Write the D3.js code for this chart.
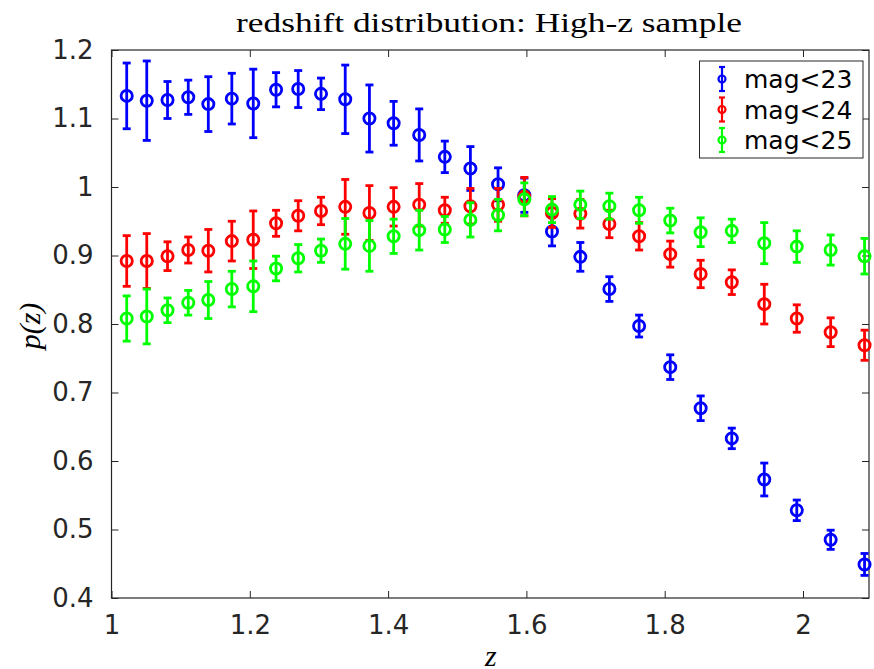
<!DOCTYPE html>
<meta charset="utf-8">
<style>
  body { margin: 0; background: #fff; }
  .tick text { font-family: "DejaVu Sans", sans-serif; font-size: 26px; fill: #262626; }
  .legend text { font-family: "DejaVu Sans", sans-serif; font-size: 25px; fill: #000; }
  .title, .lab { font-family: "Liberation Serif", "DejaVu Serif", serif; fill: #000; }
</style>
<body>
<svg width="874" height="669"></svg>
<script src="https://d3js.org/d3.v7.min.js"></script>
<script>
// redshift bin centres
var zs = [1.022,1.051,1.081,1.111,1.140,1.174,1.205,1.238,1.270,1.303,1.338,1.373,1.408,1.445,1.482,
          1.519,1.559,1.597,1.637,1.678,1.720,1.763,1.808,1.852,1.897,1.944,1.991,2.040,2.089];

var mag23 = [1.133,1.126,1.127,1.131,1.121,1.129,1.122,1.142,1.143,1.136,1.128,1.100,1.093,1.076,1.044,
             1.027,1.004,0.988,0.935,0.898,0.851,0.797,0.737,0.677,0.633,0.573,0.528,0.485,0.449];
var err23 = [0.048,0.058,0.027,0.025,0.040,0.037,0.050,0.025,0.027,0.023,0.050,0.049,0.032,0.038,0.023,
             0.032,0.024,0.025,0.021,0.021,0.018,0.016,0.018,0.018,0.015,0.024,0.015,0.014,0.016];

var mag24 = [0.892,0.892,0.899,0.908,0.907,0.921,0.923,0.947,0.958,0.965,0.971,0.962,0.971,0.974,0.966,
             0.972,0.974,0.986,0.962,0.961,0.946,0.928,0.902,0.873,0.861,0.829,0.808,0.788,0.769];
var err24 = [0.037,0.040,0.021,0.019,0.031,0.029,0.042,0.019,0.022,0.020,0.040,0.040,0.028,0.031,0.019,
             0.026,0.024,0.028,0.021,0.021,0.020,0.020,0.019,0.020,0.018,0.029,0.020,0.021,0.022];

var mag25 = [0.808,0.811,0.820,0.831,0.835,0.851,0.855,0.881,0.896,0.907,0.917,0.914,0.928,0.937,0.938,
             0.952,0.959,0.982,0.967,0.974,0.972,0.966,0.951,0.934,0.936,0.918,0.913,0.908,0.899];
var err25 = [0.033,0.040,0.018,0.018,0.027,0.026,0.037,0.018,0.020,0.017,0.037,0.037,0.025,0.029,0.019,
             0.025,0.023,0.024,0.019,0.020,0.019,0.019,0.018,0.021,0.017,0.030,0.023,0.022,0.026];

var seriesNames = ["mag<23", "mag<24", "mag<25"];
var seriesColors = ["#0000ff", "#ff0000", "#00ff00"];
var xTicks = [1, 1.2, 1.4, 1.6, 1.8, 2];
var yTicks = [0.4, 0.5, 0.6, 0.7, 0.8, 0.9, 1, 1.1, 1.2];

var series = [
  {name: seriesNames[0], color: seriesColors[0], y: mag23, e: err23},
  {name: seriesNames[1], color: seriesColors[1], y: mag24, e: err24},
  {name: seriesNames[2], color: seriesColors[2], y: mag25, e: err25}
];

var svg = d3.select("svg");
var L = 111.5, R = 869, T = 50, B = 598;

var x = d3.scaleLinear().domain([1, 1 + (R - L) / 691.5]).range([L, R]);
var y = d3.scaleLinear().domain([0.4, 1.2]).range([B, T]);

// axes, ticks pointing inward
var fmt = function(d) { return String(+d.toFixed(1)); };
function styleAxis(g) {
  g.select(".domain").remove();
  g.selectAll(".tick line").attr("stroke", "#262626").attr("stroke-width", 1);
}
svg.append("g").attr("transform", "translate(0," + B + ")")
  .call(d3.axisBottom(x).tickValues(xTicks).tickFormat(fmt).tickSizeInner(-7).tickPadding(18))
  .call(styleAxis);
svg.append("g").attr("transform", "translate(0," + T + ")")
  .call(d3.axisTop(x).tickValues(xTicks).tickFormat("").tickSizeInner(-7))
  .call(styleAxis);
svg.append("g").attr("transform", "translate(" + L + ",0)")
  .call(d3.axisLeft(y).tickValues(yTicks).tickFormat(fmt).tickSizeInner(-7).tickPadding(18))
  .call(styleAxis);
svg.append("g").attr("transform", "translate(" + R + ",0)")
  .call(d3.axisRight(y).tickValues(yTicks).tickFormat("").tickSizeInner(-7))
  .call(styleAxis);
svg.selectAll(".tick text").attr("font-family", null).attr("font-size", null);

svg.append("rect").attr("x", L).attr("y", T).attr("width", R - L).attr("height", B - T)
  .attr("fill", "none").attr("stroke", "#262626").attr("stroke-width", 1.2);

// error bars + circles
var cap = 4;
series.forEach(function(s) {
  var g = svg.append("g").attr("stroke", s.color).attr("stroke-width", 2.8).attr("fill", "none");
  zs.forEach(function(z, i) {
    var cx = x(z), y0 = y(s.y[i] - s.e[i]), y1 = y(s.y[i] + s.e[i]);
    g.append("line").attr("x1", cx).attr("x2", cx).attr("y1", y0).attr("y2", y1);
    g.append("line").attr("x1", cx - cap).attr("x2", cx + cap).attr("y1", y0).attr("y2", y0);
    g.append("line").attr("x1", cx - cap).attr("x2", cx + cap).attr("y1", y1).attr("y2", y1);
    g.append("circle").attr("cx", cx).attr("cy", y(s.y[i])).attr("r", 5.6);
  });
});

// legend
var lg = svg.append("g").attr("class", "legend");
lg.append("rect").attr("x", 699.5).attr("y", 61).attr("width", 163.5).attr("height", 97)
  .attr("fill", "#fff").attr("stroke", "#262626").attr("stroke-width", 1);
series.forEach(function(s, i) {
  var cy = 79 + i * 30.5, cx = 722;
  var g = lg.append("g").attr("stroke", s.color).attr("stroke-width", 2.2).attr("fill", "none");
  g.append("line").attr("x1", cx).attr("x2", cx).attr("y1", cy - 12).attr("y2", cy + 12);
  g.append("line").attr("x1", cx - 3).attr("x2", cx + 3).attr("y1", cy - 12).attr("y2", cy - 12);
  g.append("line").attr("x1", cx - 3).attr("x2", cx + 3).attr("y1", cy + 12).attr("y2", cy + 12);
  g.append("circle").attr("cx", cx).attr("cy", cy).attr("r", 3.5);
  lg.append("text").attr("x", 744).attr("y", cy + 9).text(s.name);
});

// title and labels
svg.append("text").attr("class", "title").attr("x", 236).attr("y", 32)
  .attr("font-size", 27).attr("textLength", 506).attr("lengthAdjust", "spacingAndGlyphs")
  .text("redshift distribution: High-z sample");
svg.append("text").attr("class", "lab").attr("x", 485).attr("y", 666)
  .attr("font-size", 30).attr("font-style", "italic").text("z");
svg.append("text").attr("class", "lab").attr("transform", "translate(40," + 326 + ") rotate(-90)")
  .attr("text-anchor", "middle").attr("font-size", 30).attr("font-style", "italic").text("p(z)");
</script>
</body>
